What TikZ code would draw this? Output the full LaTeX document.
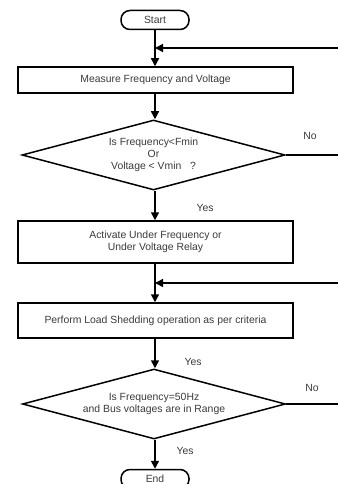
\documentclass[tikz,border=0pt]{standalone}
\usepackage{fontspec}
\setmainfont{Liberation Sans}
\usetikzlibrary{shapes.geometric,arrows.meta}
\definecolor{txt}{HTML}{3A3A3A}
\begin{document}
\begin{tikzpicture}[x=1pt,y=-1pt,
  every node/.style={font=\fontsize{10.4}{12}\selectfont, text=txt},
  line/.style={line width=1.5pt, draw=black},
  arr/.style={line, -{Triangle[length=8pt,width=8pt]}},
  term/.style={line, rounded corners=9pt, minimum width=68pt, minimum height=19pt, inner sep=0pt},
  procbox/.style={line, rectangle, minimum width=275pt, inner sep=0pt, align=center},
  decision/.style={line, diamond, shape aspect=3.76, minimum width=263pt, minimum height=70pt, inner sep=0pt, align=center},
  lbl/.style={inner sep=0pt}
]
\useasboundingbox (0,0) rectangle (337,484);
\node[term] (start) at (155,20) {Start};
\node[procbox, minimum height=26pt] (meas) at (155.5,80) {Measure Frequency and Voltage};
\node[decision] (d1) at (153.5,155) {Is Frequency<Fmin\\Or\\Voltage < Vmin \ \ ?};
\node[procbox, minimum height=42pt] (act) at (155.5,242) {Activate Under Frequency or\\Under Voltage Relay};
\node[procbox, minimum height=35pt] (shed) at (155.5,320.5) {Perform Load Shedding operation as per criteria};
\node[decision] (d2) at (154,404) {Is Frequency=50Hz\\and Bus voltages are in Range};
\node[term] (end) at (155,479) {End};

\coordinate (fb1) at (340,48);
\coordinate (fb2) at (340,283);

\draw[arr] (start) -- (meas.north -| start);
\draw[arr] (fb1) -- (fb1 -| start);
\draw[arr] (meas.south -| start) -- (d1.north -| start);
\draw[arr] (d1.south -| start) -- (act.north -| start);
\draw[arr] (act.south -| start) -- (shed.north -| start);
\draw[arr] (fb2) -- (fb2 -| start);
\draw[arr] (shed.south -| start) -- (d2.north -| start);
\draw[arr] (d2.south -| start) -- (end.north -| start);
\draw[line] (d1.east) -- (d1.east -| fb1);
\draw[line] (d2.east) -- (d2.east -| fb1);

\node[lbl] (no1) at (310,136) {No};
\node[lbl] (yes1) at (205,208) {Yes};
\node[lbl] (yes2) at (193,362) {Yes};
\node[lbl] (no2) at (312,388) {No};
\node[lbl] (yes3) at (185,451) {Yes};
\end{tikzpicture}
\end{document}
